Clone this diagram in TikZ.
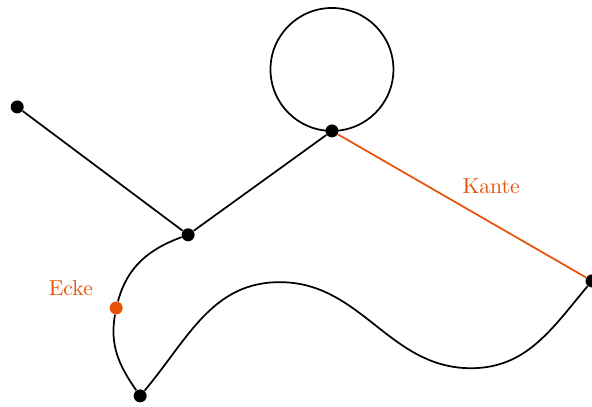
\documentclass[tikz,border=0pt]{standalone}
\usetikzlibrary{
  arrows.meta,
  positioning,
  calc
}
\definecolor{edgeorange}{RGB}{232,82,8}
\definecolor{vertexblack}{RGB}{0,0,0}
\tikzset{
  vertexdot/.style={
    circle, fill=vertexblack, draw=none,
    minimum size=6pt, inner sep=0pt
  },
  eckedot/.style={
    vertexdot, fill=edgeorange
  },
  graphedge/.style={
    draw=vertexblack, line width=0.8pt
  },
  kantenedge/.style={
    draw=edgeorange, line width=0.8pt
  },
  graphlabel/.style={
    font=\normalsize\color{edgeorange}
  },
}
\begin{document}
\begin{tikzpicture}

  \useasboundingbox (0,0) rectangle (9.63,6.62);

  %% Vertices
  \node[vertexdot] (A) at (0.28,4.88) {};
  \node[vertexdot] (B) at (3.06,2.80) {};
  \node[vertexdot] (C) at (5.40,4.49) {};
  \node[vertexdot] (D) at (9.63,2.05) {};
  \node[vertexdot] (F) at (2.28,0.18) {};
  \node[eckedot, label={[graphlabel, xshift=-5pt]above left:Ecke}] (E)
    at (1.89,1.61) {};

  %% turning points of the wave
  \coordinate (top) at (4.55,2.03);
  \coordinate (low) at (7.66,0.63);

  %% Edges
  \draw[graphedge] (A) -- (B);
  \draw[graphedge] (B) -- (C);
  \draw[graphedge] (C.center) arc[start angle=-90, end angle=270, radius=1cm];
  \draw[kantenedge] (C) -- node[graphlabel, pos=0.47, above right=0pt] {Kante} (D);

  \draw[graphedge] (B) to[out=200, in=75] (E);
  \draw[graphedge] (E) to[out=-100, in=125] (F);
  \draw[graphedge] (F) to[out=50, in=180] (top)
    to[out=0, in=180] (low) to[out=0, in=230] (D);

\end{tikzpicture}
\end{document}
